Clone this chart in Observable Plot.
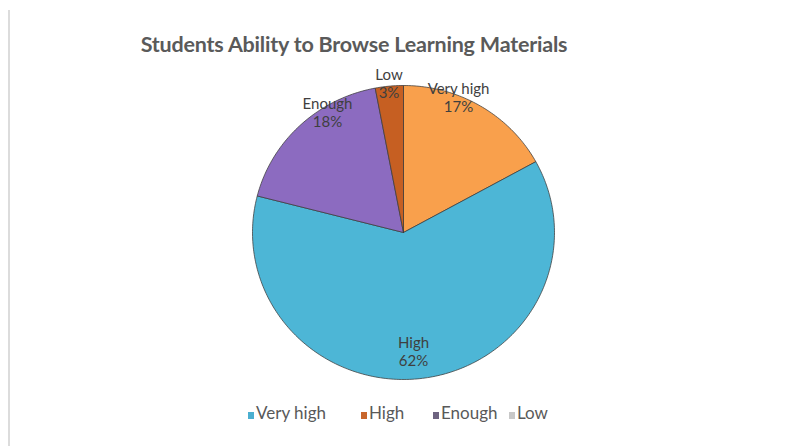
<!DOCTYPE html>
<html>
<head>
<meta charset="utf-8">
<script src="https://cdn.jsdelivr.net/npm/d3@7"></script>
<script src="https://cdn.jsdelivr.net/npm/@observablehq/plot@0.6"></script>
<style>
  html, body { margin: 0; padding: 0; background: #fff; }
  #wrap { position: relative; width: 792px; height: 446px; overflow: hidden; font-family: Lato, "Open Sans", sans-serif; }
  #border { position: absolute; left: 8px; top: 10px; width: 2px; height: 436px; background: #dcdcdc; }
  #title { position: absolute; top: 31px; left: 0; width: 708px; text-align: center; font-size: 21.5px; font-weight: bold; color: #5a5a5a; letter-spacing: -0.2px; }
  #chart { position: absolute; left: 0; top: 62px; }
  #legend { position: absolute; top: 402px; left: 0; width: 792px; height: 24px; font-size: 17px; color: #595959; }
  .item { position: absolute; top: 0; display: flex; align-items: center; }
  .mk { width: 6px; height: 7px; margin-right: 2px; margin-top: 5px; }
</style>
</head>
<body>
<div id="wrap">
  <div id="border"></div>
  <div id="title">Students Ability to Browse Learning Materials</div>
  <div id="chart"></div>
  <div id="legend"></div>
</div>
<script>
// ---- data ----
const categories = ["Very high", "High", "Enough", "Low"];
const percents = [17, 62, 18, 3];
const sliceColors = ["#F9A04C", "#4DB6D6", "#8C6BC0", "#C65F22"];
const legendLabels = ["Very high", "High", "Enough", "Low"];
const legendColors = ["#4BAFD0", "#C8662C", "#6E6480", "#C8C8C8"];

// ---- layout (styles) ----
const W = 792, H = 330;
const cx = 403, cy = 170, rx = 151, ry = 147;
// label placement nudges (degrees, radius fraction) to mimic "best fit"
const labelNudge = {"Very high": [-9, 0.99], "High": [2.5, 0.81], "Enough": [11.6, 0.96], "Low": [0, 1.02]};
const legendLeft = [248, 361, 433, 509];

const pie = d3.pie().sort(null).value(d => d.value)(
  categories.map((c, i) => ({label: c, value: percents[i]}))
);

const pts = [];
for (const s of pie) {
  const a0 = s.startAngle, a1 = s.endAngle;
  const n = Math.max(2, Math.ceil((a1 - a0) / (Math.PI / 180)));
  pts.push({label: s.data.label, x: cx, y: cy});
  for (let k = 0; k <= n; k++) {
    const a = a0 + (a1 - a0) * k / n;
    pts.push({label: s.data.label, x: cx + rx * Math.sin(a), y: cy - ry * Math.cos(a)});
  }
  pts.push({label: s.data.label, x: cx, y: cy});
}

const labels = pie.map(s => {
  const [da, f] = labelNudge[s.data.label];
  const a = (s.startAngle + s.endAngle) / 2 + da * Math.PI / 180;
  return {text: `${s.data.label}\n${s.data.value}%`, x: cx + rx * f * Math.sin(a), y: cy - ry * f * Math.cos(a)};
});

const plot = Plot.plot({
  width: W, height: H,
  margin: 0,
  x: {domain: [0, W], range: [0, W], axis: null},
  y: {domain: [0, H], range: [0, H], axis: null},
  color: {domain: categories, range: sliceColors},
  style: {background: "transparent", overflow: "visible"},
  marks: [
    Plot.line(pts, {x: "x", y: "y", z: "label", fill: "label", stroke: "#3d3d3d", strokeWidth: 0.9, strokeOpacity: 0.85, curve: "linear"}),
    Plot.text(labels, {x: "x", y: "y", text: "text", fontSize: 15, fill: "#3f3f3f", lineHeight: 1.2, fontFamily: "Lato, 'Open Sans', sans-serif"})
  ]
});
document.getElementById("chart").appendChild(plot);

const leg = document.getElementById("legend");
legendLabels.forEach((l, i) => {
  const it = document.createElement("div");
  it.className = "item";
  it.style.left = legendLeft[i] + "px";
  const m = document.createElement("span");
  m.className = "mk";
  m.style.background = legendColors[i];
  const t = document.createElement("span");
  t.textContent = l;
  it.appendChild(m); it.appendChild(t);
  leg.appendChild(it);
});
</script>
</body>
</html>
